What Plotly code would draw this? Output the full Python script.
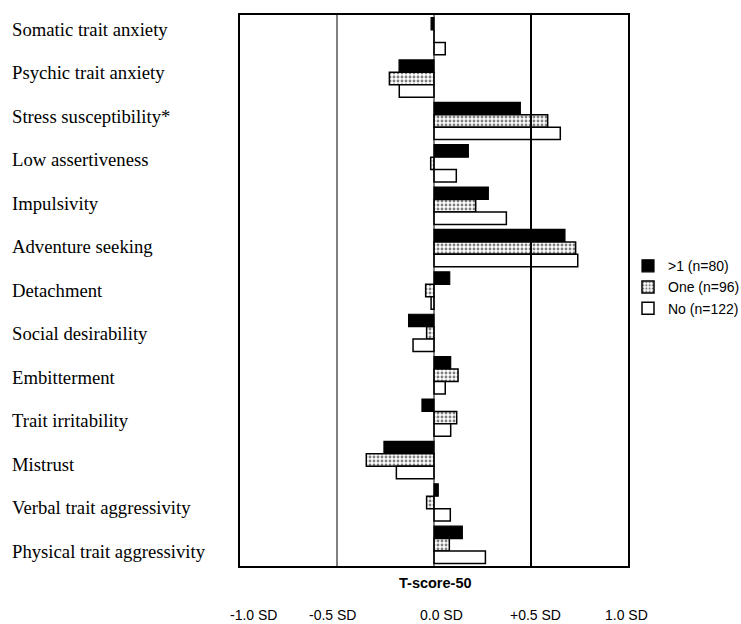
import plotly.graph_objects as go

categories = [
    "Somatic trait anxiety",
    "Psychic trait anxiety",
    "Stress susceptibility*",
    "Low assertiveness",
    "Impulsivity",
    "Adventure seeking",
    "Detachment",
    "Social desirability",
    "Embitterment",
    "Trait irritability",
    "Mistrust",
    "Verbal trait aggressivity",
    "Physical trait aggressivity",
]

more_than_one = [-0.015, -0.18, 0.445, 0.177, 0.28, 0.675, 0.081, -0.131, 0.086, -0.062, -0.258, 0.022, 0.146]
one = [0.0, -0.23, 0.586, -0.017, 0.215, 0.73, -0.043, -0.038, 0.124, 0.117, -0.349, -0.038, 0.079]
none = [0.058, -0.179, 0.651, 0.115, 0.373, 0.741, -0.015, -0.108, 0.058, 0.086, -0.194, 0.084, 0.265]

series_names = [">1 (n=80)", "One (n=96)", "No (n=122)"]

tick_labels = ["-1.0 SD", "-0.5 SD", "0.0 SD", "+0.5 SD", "1.0 SD"]
tick_label_pos = [-0.928, -0.523, 0.041, 0.523, 0.992]

fig = go.Figure()
fig.add_trace(go.Bar(
    y=categories, x=more_than_one, orientation="h", name=series_names[0],
    marker=dict(color="black", line=dict(color="black", width=1.2)),
))
fig.add_trace(go.Bar(
    y=categories, x=one, orientation="h", name=series_names[1],
    marker=dict(color="white", line=dict(color="black", width=1.5),
                pattern=dict(shape=".", fgcolor="black", bgcolor="white", size=4, solidity=0.4)),
))
fig.add_trace(go.Bar(
    y=categories, x=none, orientation="h", name=series_names[2],
    marker=dict(color="white", line=dict(color="black", width=1.5)),
))

# vertical reference lines
fig.add_shape(type="line", xref="x", yref="paper", x0=-0.5, x1=-0.5, y0=0, y1=1,
              line=dict(color="black", width=1))
fig.add_shape(type="line", xref="x", yref="paper", x0=0.5, x1=0.5, y0=0, y1=1,
              line=dict(color="black", width=2))
fig.add_shape(type="line", xref="x", yref="paper", x0=0, x1=0, y0=0, y1=1,
              line=dict(color="black", width=1), layer="above")

annotations = []
n = len(categories)
label_top, label_bottom = 0.9737, 0.0272
for i, c in enumerate(categories):
    yp = label_top - i * (label_top - label_bottom) / (n - 1)
    annotations.append(dict(
        x=0, xref="paper", xshift=-230, y=yp, yref="paper",
        text=c, showarrow=False, xanchor="left", yanchor="middle",
        font=dict(family="Liberation Serif, Times New Roman, serif", size=18.7, color="black"),
    ))
for lbl, pos in zip(tick_labels, tick_label_pos):
    annotations.append(dict(
        x=pos, xref="x", y=0, yref="paper", yshift=-49,
        text=lbl, showarrow=False, xanchor="center", yanchor="middle",
        font=dict(family="Liberation Sans, Arial, sans-serif", size=14, color="black"),
    ))
annotations.append(dict(
    x=0.008, xref="x", y=0, yref="paper", yshift=-17,
    text="<b>T-score-50</b>", showarrow=False, xanchor="center", yanchor="middle",
    font=dict(family="Liberation Sans, Arial, sans-serif", size=14.5, color="black"),
))

fig.update_layout(
    width=741, height=624,
    margin=dict(l=240, r=113, t=15, b=58, autoexpand=False),
    paper_bgcolor="white", plot_bgcolor="white",
    barmode="group", bargap=0.12, bargroupgap=0.0,
    showlegend=True,
    legend=dict(x=1.0, xanchor="left", y=0.506, yanchor="middle",
                font=dict(family="Liberation Sans, Arial, sans-serif", size=14, color="black"),
                bgcolor="rgba(0,0,0,0)", tracegroupgap=0, itemwidth=30),
    annotations=annotations,
    xaxis=dict(range=[-1, 1], showgrid=False, zeroline=False, showticklabels=False,
               ticks="", showline=True, mirror=True, linecolor="black", linewidth=2),
    yaxis=dict(autorange="reversed", showgrid=False, zeroline=False, showticklabels=False,
               ticks="", showline=True, mirror=True, linecolor="black", linewidth=2),
)

fig.write_html("out.html", config={"displayModeBar": False},
               post_script="document.body.style.margin='0px';")
